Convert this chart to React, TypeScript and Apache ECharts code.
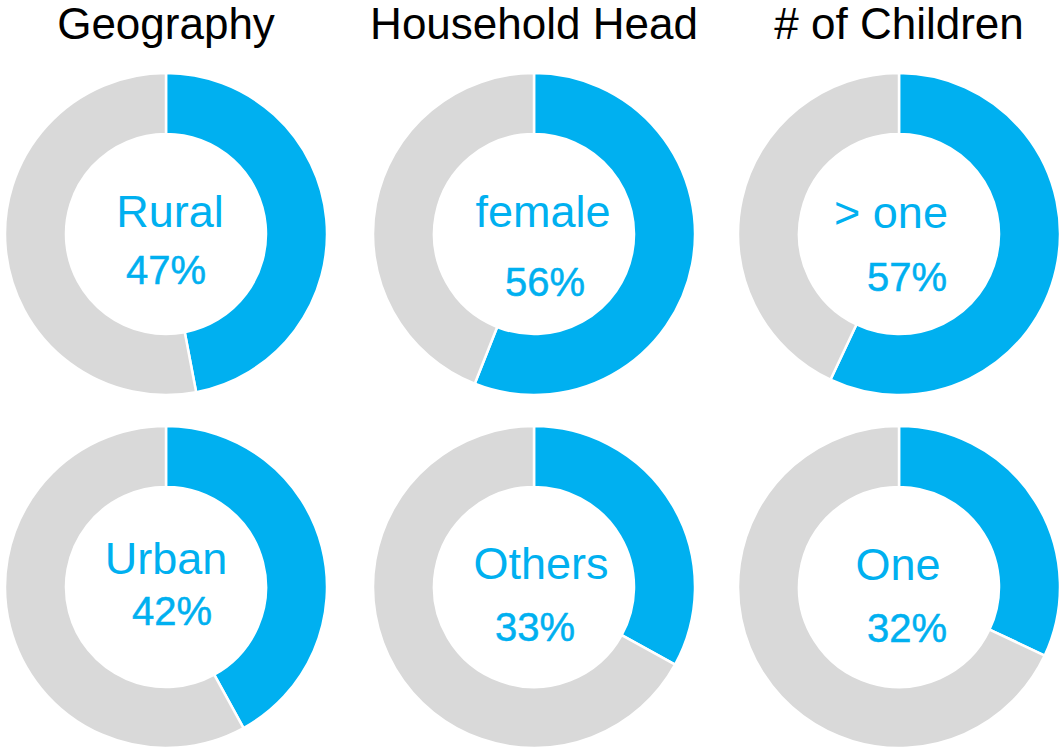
import React, { useEffect, useRef } from "react";
import * as echarts from "echarts";

const groupTitles = ["Geography", "Household Head", "# of Children"];
const topLabels = ["Rural", "female", "> one"];
const topValues = [47, 56, 57];
const bottomLabels = ["Urban", "Others", "One"];
const bottomValues = [42, 33, 32];

const BLUE = "#00B0F0";
const GREY = "#D9D9D9";
const FONT = "'Liberation Sans', Arial, sans-serif";

const colX = [166, 534, 899];
const rowY = [234, 587];
// label positions relative to each donut centre: [labelDx, labelDy, pctDx, pctDy]
const textOffsets = [
  [[4, -23, 0, 36], [9, -23, 11, 48], [-8, -22, 8, 43]],
  [[0, -29, 6, 24], [7, -24, 1, 40], [-1, -23, 8, 41]],
];

export default function App() {
  const ref = useRef<HTMLDivElement>(null);
  useEffect(() => {
    if (!ref.current) return;
    const chart = echarts.init(ref.current, null, { renderer: "svg" });
    const rows = [
      { labels: topLabels, values: topValues },
      { labels: bottomLabels, values: bottomValues },
    ];
    const series: any[] = [];
    const graphic: any[] = [];
    groupTitles.forEach((t, i) => {
      graphic.push({
        type: "text",
        x: colX[i],
        y: 23,
        style: {
          text: t,
          fill: "#000",
          font: `44px ${FONT}`,
          align: "center",
          verticalAlign: "middle",
        },
      });
    });
    rows.forEach((row, r) => {
      row.values.forEach((v, c) => {
        series.push({
          type: "pie",
          center: [colX[c], rowY[r]],
          radius: [100, 161],
          startAngle: 90,
          clockwise: true,
          silent: true,
          label: { show: false },
          labelLine: { show: false },
          itemStyle: { borderColor: "#fff", borderWidth: 2.5 },
          data: [
            { value: v, name: row.labels[c], itemStyle: { color: BLUE } },
            { value: 100 - v, name: "rest", itemStyle: { color: GREY } },
          ],
        });
        const o = textOffsets[r][c];
        graphic.push({
          type: "text",
          x: colX[c] + o[0],
          y: rowY[r] + o[1],
          style: {
            text: row.labels[c],
            fill: BLUE,
            font: `45px ${FONT}`,
            align: "center",
            verticalAlign: "middle",
          },
        });
        graphic.push({
          type: "text",
          x: colX[c] + o[2],
          y: rowY[r] + o[3],
          style: {
            text: `${v}%`,
            fill: BLUE,
            stroke: BLUE,
            lineWidth: 0.5,
            font: `40px ${FONT}`,
            align: "center",
            verticalAlign: "middle",
          },
        });
      });
    });
    chart.setOption({
      animation: false,
      backgroundColor: "#fff",
      series,
      graphic,
    });
    return () => chart.dispose();
  }, []);
  return (
    <div
      ref={ref}
      style={{ position: "fixed", left: 0, top: 0, width: 1062, height: 748 }}
    />
  );
}
